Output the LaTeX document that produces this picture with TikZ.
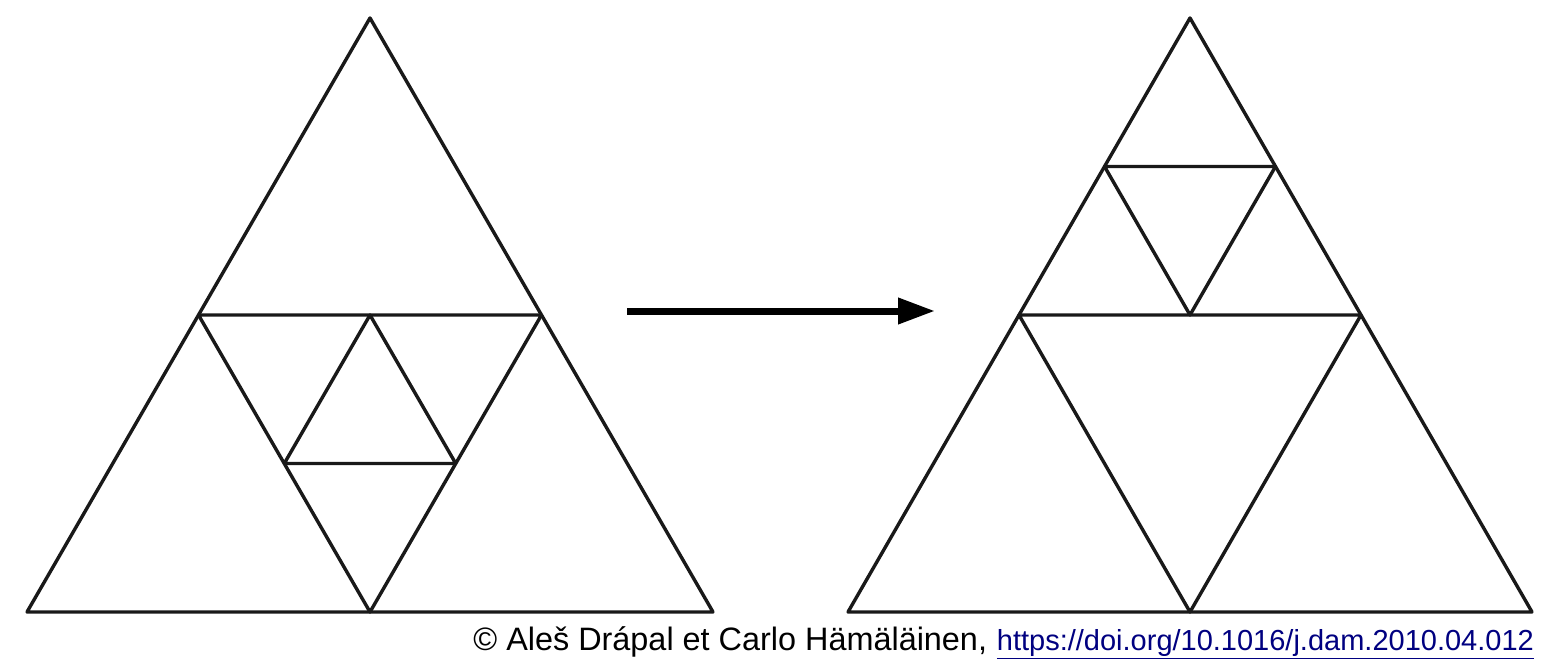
\documentclass[tikz,border=0pt]{standalone}
\usepackage{fontspec}
\setmainfont{Liberation Sans}
\usetikzlibrary{calc,arrows.meta}
\definecolor{urlblue}{RGB}{0,0,128}

\begin{document}
\begin{tikzpicture}
 [x=0.5pt, y=-0.5pt,
  tri line/.style={line width=1.7pt, line join=round, black!90},
  move arrow/.style={line width=3.5pt, -{Triangle[length=18.5pt, width=12.5pt]}},
  credit text/.style={inner sep=0pt, font=\fontsize{16.2}{19}\selectfont},
  url text/.style={inner sep=0pt, text=urlblue, font=\fontsize{14.5}{17}\selectfont}]

\useasboundingbox (0,0) rectangle (1541,663);

% left triangle
\coordinate (lA) at (370,18);
\coordinate (lB) at (27,612);
\coordinate (lC) at (713,612);
\coordinate (lAB) at ($(lA)!0.5!(lB)$);
\coordinate (lAC) at ($(lA)!0.5!(lC)$);
\coordinate (lBC) at ($(lB)!0.5!(lC)$);
\coordinate (lin1) at ($(lAB)!0.5!(lAC)$);
\coordinate (lin2) at ($(lAB)!0.5!(lBC)$);
\coordinate (lin3) at ($(lAC)!0.5!(lBC)$);

\draw[tri line] (lA) -- (lB) -- (lC) -- cycle;
\draw[tri line] (lAB) -- (lAC) -- (lBC) -- cycle;
\draw[tri line] (lin1) -- (lin2) -- (lin3) -- cycle;

% right triangle
\coordinate (rA) at (1190,18);
\coordinate (rB) at (848,612);
\coordinate (rC) at (1532,612);
\coordinate (rAB) at ($(rA)!0.5!(rB)$);
\coordinate (rAC) at ($(rA)!0.5!(rC)$);
\coordinate (rBC) at ($(rB)!0.5!(rC)$);
\coordinate (rtop1) at ($(rA)!0.5!(rAB)$);
\coordinate (rtop2) at ($(rA)!0.5!(rAC)$);
\coordinate (rtop3) at ($(rAB)!0.5!(rAC)$);

\draw[tri line] (rA) -- (rB) -- (rC) -- cycle;
\draw[tri line] (rAB) -- (rAC) -- (rBC) -- cycle;
\draw[tri line] (rtop1) -- (rtop2) -- (rtop3) -- cycle;

% arrow
\coordinate (from) at (627,311);
\coordinate (to) at (935,311);
\draw[move arrow] (from) -- (to);

% credit line
\node[credit text, anchor=base west] (credit) at (473,650) {© Aleš Drápal et Carlo Hämäläinen,};
\node[url text, anchor=base west] (url) at ([xshift=4.5pt]credit.base east) {\underline{https://doi.org/10.1016/j.dam.2010.04.012}};

\end{tikzpicture}
\end{document}
